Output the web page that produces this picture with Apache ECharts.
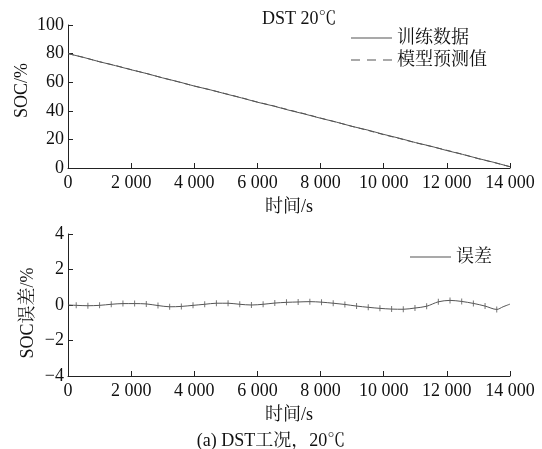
<!DOCTYPE html>
<html><head><meta charset="utf-8">
<script src="https://cdn.jsdelivr.net/npm/echarts@6/dist/echarts.min.js"></script>
<style>html,body{margin:0;padding:0;background:#fff}#c{width:542px;height:449px}</style>
</head><body><div id="c"></div>
<script>
// Top panel: SOC (%) vs time (s)
const socTime = [0,500,1000,1500,2000,2500,3000,3500,4000,4500,5000,5500,6000,6500,7000,7500,8000,8500,9000,9500,10000,10500,11000,11500,12000,12500,13000,13500,14000];
const socTrain = [80.0,77.3,74.3,71.6,68.7,66.0,63.0,60.3,57.3,54.7,51.8,49.0,46.0,43.4,40.4,37.7,34.8,32.1,29.1,26.5,23.5,20.8,17.8,15.2,12.2,9.5,6.6,3.9,0.9];
const socPred  = [80.0,77.3,74.3,71.7,68.8,66.0,63.0,60.2,57.3,54.7,51.9,49.1,46.1,43.5,40.6,37.9,34.9,32.1,29.1,26.3,23.3,20.6,17.7,15.1,12.4,9.6,6.5,3.8,0.9];
// Bottom panel: SOC error (%) vs time (s)
const errTime = [0,260,630,1000,1370,1740,2110,2480,2850,3220,3590,3960,4330,4700,5070,5440,5810,6180,6550,6920,7290,7660,8030,8400,8770,9140,9510,9880,10250,10620,10990,11360,11730,12100,12470,12840,13210,13580,13780,14000];
const errVal  = [0,-0.02,-0.04,-0.02,0.04,0.08,0.08,0.06,-0.03,-0.1,-0.08,-0.02,0.04,0.1,0.1,0.04,0.0,0.04,0.11,0.15,0.17,0.19,0.16,0.1,0.03,-0.06,-0.13,-0.19,-0.23,-0.24,-0.17,-0.07,0.18,0.26,0.2,0.09,-0.06,-0.25,-0.1,0.05];
const xTicks = [0,2000,4000,6000,8000,10000,12000,14000];
const socTicks = [0,20,40,60,80,100];
const errTicks = [-4,-2,0,2,4];

const pair = (xs, ys) => xs.map((x, i) => [x, ys[i]]);
const FONT = "'Liberation Serif','Times New Roman','Noto Serif CJK SC','Noto Sans CJK SC',serif";
const fmtX = v => v >= 1000 ? (Math.floor(v/1000) + ' ' + String(v%1000).padStart(3,'0')) : String(v);
const fmtY = v => v < 0 ? '\u2212' + Math.abs(v) : String(v);
const lineCol = '#555555';
const SOLID_ICON = 'path://M0,0H41V1H0Z';
const DASH_ICON = 'path://M0,0H9V1H0ZM16,0H25V1H16ZM32,0H41V1H32Z';

function xAxis(gi){
  return {gridIndex: gi, type:'value', min: xTicks[0], max: xTicks[xTicks.length-1], interval: 2000,
    name:'时间/s', nameLocation:'middle', nameGap: 30, nameMoveOverlap:false,
    nameTextStyle:{fontFamily:FONT, fontSize:18, color:'#111'},
    axisLine:{onZero:false, lineStyle:{color:'#222', width:1}},
    axisTick:{inside:true, length:5, lineStyle:{color:'#222'}},
    axisLabel:{fontFamily:FONT, fontSize:18, color:'#111', margin:6, formatter: fmtX},
    splitLine:{show:false}};
}
function yAxis(gi, ticks, name, gap, pad){
  return {gridIndex: gi, type:'value', min: ticks[0], max: ticks[ticks.length-1], interval: ticks[1]-ticks[0],
    name: name, nameLocation:'middle', nameGap: gap, nameMoveOverlap:false,
    nameTextStyle:{fontFamily:FONT, fontSize:18, color:'#111', padding: pad},
    axisLine:{show:true, onZero:false, lineStyle:{color:'#222', width:1}},
    axisTick:{inside:true, length:5, lineStyle:{color:'#222'}},
    axisLabel:{fontFamily:FONT, fontSize:18, color:'#111', margin:4, formatter: fmtY},
    splitLine:{show:false}};
}

const chart = echarts.init(document.getElementById('c'), null, {renderer:'canvas'});
chart.setOption({
  animation:false,
  backgroundColor:'#fff',
  title:[
    {text:'DST 20℃', left:257, top:5, textStyle:{fontFamily:FONT, fontSize:18, fontWeight:'normal', color:'#111'}},
    {text:'(a) DST工况，20℃', left:'center', top:427, textStyle:{fontFamily:FONT, fontSize:18, fontWeight:'normal', color:'#111'}}
  ],
  legend:[
    {data:[{name:'训练数据', icon:SOLID_ICON},{name:'模型预测值', icon:DASH_ICON}], orient:'vertical', left:351, top:29, padding:0,
      itemWidth:41, itemHeight:1, itemGap:4,
      itemStyle:{color:lineCol}, lineStyle:{width:0},
      textStyle:{fontFamily:FONT, fontSize:18, color:'#111'}},
    {data:[{name:'误差', icon:SOLID_ICON}], orient:'vertical', left:410, top:248, padding:0, itemWidth:41, itemHeight:1,
      itemStyle:{color:lineCol}, lineStyle:{width:0},
      textStyle:{fontFamily:FONT, fontSize:18, color:'#111'}}
  ],
  grid:[
    {left:68, right:32, top:25, height:143},
    {left:68, right:32, top:234, height:142}
  ],
  xAxis:[xAxis(0), xAxis(1)],
  yAxis:[yAxis(0, socTicks, 'SOC/%', 37, [0,0,0,12]), yAxis(1, errTicks, 'SOC误差/%', 31, [0,16,0,0])],
  series:[
    {name:'训练数据', type:'line', xAxisIndex:0, yAxisIndex:0, data: pair(socTime, socTrain), symbol:'none',
      lineStyle:{color:lineCol, width:1}, itemStyle:{color:lineCol}},
    {name:'模型预测值', type:'line', xAxisIndex:0, yAxisIndex:0, data: pair(socTime, socPred), symbol:'none',
      lineStyle:{color:lineCol, width:1, type:[6,4]}, itemStyle:{color:lineCol}},
    {name:'误差', type:'line', xAxisIndex:1, yAxisIndex:1, data: pair(errTime, errVal), symbol:'none', smooth:0.3,
      lineStyle:{color:lineCol, width:1}, itemStyle:{color:lineCol}},
    {name:'误差标记', type:'scatter', xAxisIndex:1, yAxisIndex:1, data: pair(errTime.slice(1,-2), errVal.slice(1,-2)),
      symbol:'path://M4.5,0H5.5V10H4.5Z', symbolSize:[1,6], itemStyle:{color:lineCol}}
  ]
});
</script></body></html>
